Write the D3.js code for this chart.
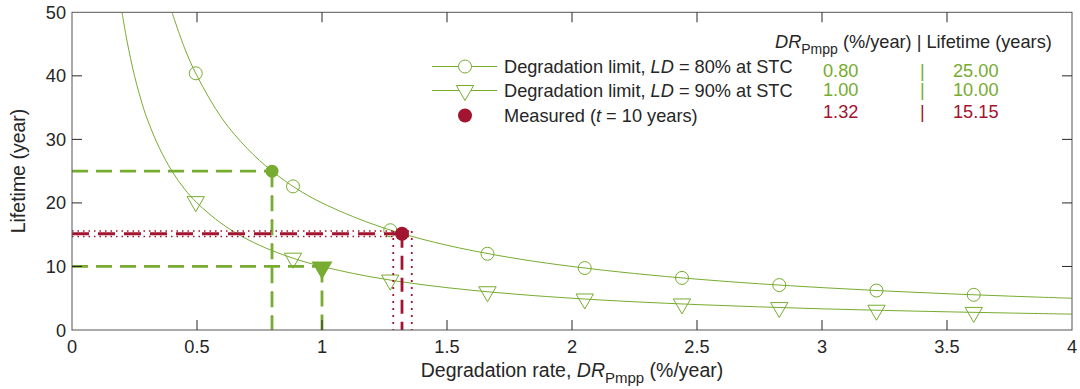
<!DOCTYPE html>
<html lang="en">
<head>
<meta charset="UTF-8">
<title>Lifetime vs degradation rate</title>
<script src="https://d3js.org/d3.v7.min.js"></script>
<style>
  body { margin: 0; background: #fff; }
  svg text { font-family: "Liberation Sans", Arial, sans-serif; fill: #262626; }
</style>
</head>
<body>
<div id="chart"></div>
<script>
// curve samples
const curveX   = [0.2, 0.22, 0.25, 0.28, 0.3, 0.35, 0.4, 0.45, 0.5, 0.6, 0.7, 0.8, 0.9, 1.0, 1.2, 1.4, 1.6, 1.8, 2.0, 2.25, 2.5, 2.75, 3.0, 3.25, 3.5, 3.75, 4.0];
const curve80Y = [null, null, null, null, null, null, 50, 44.4, 40, 33.3, 28.6, 25, 22.2, 20, 16.7, 14.3, 12.5, 11.1, 10, 8.89, 8, 7.27, 6.67, 6.15, 5.71, 5.33, 5.0];
const curve90Y = [50, 45.5, 40, 35.7, 33.3, 28.6, 25, 22.2, 20, 16.7, 14.3, 12.5, 11.1, 10, 8.33, 7.14, 6.25, 5.56, 5, 4.44, 4, 3.64, 3.33, 3.08, 2.86, 2.67, 2.5];

// marker positions
const markerX   = [0.495, 0.884, 1.273, 1.662, 2.051, 2.44, 2.829, 3.218, 3.607];
const circleY   = [40.4, 22.6, 15.7, 12.0, 9.75, 8.2, 7.07, 6.21, 5.54];
const triangleY = [20.2, 11.3, 7.86, 6.02, 4.88, 4.1, 3.53, 3.11, 2.77];

// highlighted points
const limit80 = { dr: 0.80, life: 25.00 };
const limit90 = { dr: 1.00, life: 10.00 };
const measured = { dr: 1.32, life: 15.15, drLo: 1.285, drHi: 1.359, lifeLo: 14.7, lifeHi: 15.6 };

const xTicks = [0, 0.5, 1, 1.5, 2, 2.5, 3, 3.5, 4];
const yTicks = [0, 10, 20, 30, 40, 50];

const legendLabels = [
  ["Degradation limit, ", "LD", " = 80% at STC"],
  ["Degradation limit, ", "LD", " = 90% at STC"],
  ["Measured (", "t", " = 10 years)"]
];
const tableRows = [
  ["0.80", "25.00"],
  ["1.00", "10.00"],
  ["1.32", "15.15"]
];

const green = "#77AC30", red = "#A2142F", axisCol = "#262626";
const width = 1080, height = 389;
const fs = 18.2, labelFs = 19.5;
const svg = d3.select("#chart").append("svg").attr("width", width).attr("height", height);

const x = d3.scaleLinear().domain([0, 4]).range([72, 1072]);
const y = d3.scaleLinear().domain([0, 50]).range([330, 12.3]);

// curves
const line = d3.line()
  .defined(d => d[1] != null)
  .x(d => x(d[0])).y(d => y(d[1]))
  .curve(d3.curveCatmullRom);

[curve80Y, curve90Y].forEach(ys => {
  svg.append("path")
    .datum(curveX.map((v, i) => [v, ys[i]]))
    .attr("d", line)
    .attr("fill", "none")
    .attr("stroke", green)
    .attr("stroke-width", 1);
});

// markers on curves
svg.append("g").selectAll("circle")
  .data(markerX.map((v, i) => [v, circleY[i]]))
  .join("circle")
  .attr("cx", d => x(d[0])).attr("cy", d => y(d[1]))
  .attr("r", 6.5).attr("fill", "none").attr("stroke", green).attr("stroke-width", 1);

const tri = d3.symbol().type(d3.symbolTriangle).size(130);
svg.append("g").selectAll("path")
  .data(markerX.map((v, i) => [v, triangleY[i]]))
  .join("path")
  .attr("d", tri)
  .attr("transform", d => `translate(${x(d[0])},${y(d[1])}) rotate(180)`)
  .attr("fill", "none").attr("stroke", green).attr("stroke-width", 1);

// green dashed guides
[limit80, limit90].forEach(p => {
  svg.append("path")
    .attr("d", `M${x(0)},${y(p.life)}H${x(p.dr)}M${x(p.dr)},${y(p.life)}V${y(0)}`)
    .attr("fill", "none").attr("stroke", green).attr("stroke-width", 2.8)
    .attr("stroke-dasharray", "16,8");
});

// red guides with dotted uncertainty band
const redG = svg.append("g").attr("stroke", red).attr("fill", "none");
redG.append("path")
  .attr("d", `M${x(0)},${y(measured.life)}H${x(measured.dr)}`)
  .attr("stroke-width", 2.8).attr("stroke-dasharray", "17,9");
[measured.lifeLo, measured.lifeHi].forEach(v => {
  redG.append("path")
    .attr("d", `M${x(0)},${y(v)}H${x(measured.drHi)}`)
    .attr("stroke-width", 1.5).attr("stroke-dasharray", "1.5,4");
});
redG.append("path")
  .attr("d", `M${x(measured.dr)},${y(measured.life)}V${y(0)}`)
  .attr("stroke-width", 2.8).attr("stroke-dasharray", "14,8");
[measured.drLo, measured.drHi].forEach(v => {
  redG.append("path")
    .attr("d", `M${x(v)},${y(measured.lifeHi)}V${y(0)}`)
    .attr("stroke-width", 1.8).attr("stroke-dasharray", "2,5");
});

// filled points
svg.append("circle").attr("cx", x(limit80.dr)).attr("cy", y(limit80.life)).attr("r", 6.5).attr("fill", green);
svg.append("path").attr("d", d3.symbol().type(d3.symbolTriangle).size(190))
  .attr("transform", `translate(${x(limit90.dr)},${y(limit90.life) + 1}) rotate(180)`).attr("fill", green);
svg.append("circle").attr("cx", x(measured.dr)).attr("cy", y(measured.life)).attr("r", 7).attr("fill", red);

// axes box with inward ticks
const ax = svg.append("g").attr("stroke", axisCol).attr("stroke-width", 1).attr("fill", "none");
ax.append("rect").attr("x", x(0)).attr("y", y(50)).attr("width", x(4) - x(0)).attr("height", y(0) - y(50))
  .attr("stroke", "#555");
xTicks.slice(1, -1).forEach(t => {
  ax.append("path").attr("d", `M${x(t)},${y(0)}v-10M${x(t)},${y(50)}v10`);
});
yTicks.slice(1, -1).forEach(t => {
  ax.append("path").attr("d", `M${x(0)},${y(t)}h10M${x(4)},${y(t)}h-10`);
});

svg.append("g").selectAll("text").data(xTicks).join("text")
  .attr("x", d => x(d)).attr("y", 353).attr("text-anchor", "middle")
  .attr("font-size", fs).text(d => d3.format("~g")(d));
svg.append("g").selectAll("text").data(yTicks).join("text")
  .attr("x", 66).attr("y", d => y(d) + 6.5).attr("text-anchor", "end")
  .attr("font-size", fs).text(d => d);

// axis labels
svg.append("text").attr("transform", "translate(25,171) rotate(-90)")
  .attr("text-anchor", "middle").attr("font-size", labelFs).text("Lifetime (year)");
const xl = svg.append("text").attr("x", 572).attr("y", 377).attr("text-anchor", "middle").attr("font-size", labelFs);
xl.append("tspan").text("Degradation rate, ");
xl.append("tspan").attr("font-style", "italic").text("DR");
xl.append("tspan").attr("font-size", 15).attr("dy", 6).text("Pmpp");
xl.append("tspan").attr("dy", -6).text(" (%/year)");

// legend
const legY = [66.5, 90.5, 115.5];
svg.append("path").attr("d", `M432,${legY[0]}H497`).attr("stroke", green).attr("stroke-width", 1);
svg.append("circle").attr("cx", 465).attr("cy", legY[0]).attr("r", 6.5).attr("fill", "#fff").attr("stroke", green);
svg.append("path").attr("d", `M432,${legY[1]}H497`).attr("stroke", green).attr("stroke-width", 1);
svg.append("path").attr("d", tri).attr("transform", `translate(465,${legY[1]}) rotate(180)`)
  .attr("fill", "#fff").attr("stroke", green);
svg.append("circle").attr("cx", 465).attr("cy", legY[2]).attr("r", 7).attr("fill", red);
legendLabels.forEach((parts, i) => {
  const t = svg.append("text").attr("x", 504).attr("y", legY[i] + 6.5).attr("font-size", fs);
  t.append("tspan").text(parts[0]);
  t.append("tspan").attr("font-style", "italic").text(parts[1]);
  t.append("tspan").text(parts[2]);
});

// value table
const hd = svg.append("text").attr("x", 775).attr("y", 48).attr("font-size", fs);
hd.append("tspan").attr("font-style", "italic").text("DR");
hd.append("tspan").attr("font-size", 14).attr("dy", 6).text("Pmpp");
hd.append("tspan").attr("dy", -6).text(" (%/year) | Lifetime (years)");

const rowY = [76.5, 95.5, 118];
const rowCol = [green, green, red];
tableRows.forEach((r, i) => {
  [[823, r[0]], [920, "|"], [953, r[1]]].forEach(([px, s]) => {
    svg.append("text").attr("x", px).attr("y", rowY[i]).attr("font-size", fs)
      .style("fill", rowCol[i]).text(s);
  });
});
</script>
</body>
</html>
